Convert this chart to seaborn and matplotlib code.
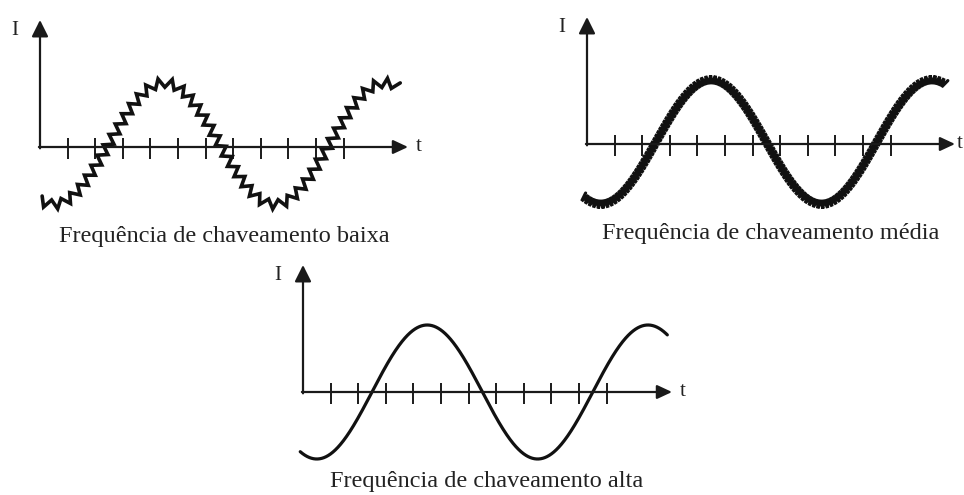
import numpy as np
import matplotlib
matplotlib.use("Agg")
import matplotlib.pyplot as plt
import seaborn as sns

sns.set_theme(style="white")
plt.rcParams["font.family"] = ["Liberation Serif", "DejaVu Serif"]

# ---- content -------------------------------------------------------------
captions = [
    "Frequência de chaveamento baixa",
    "Frequência de chaveamento média",
    "Frequência de chaveamento alta",
]
y_label = "I"
x_label = "t"

# tick marks on the time axis (time in tick units)
tick_t = [1, 2, 3, 4, 5, 6, 7, 8, 9, 10, 11]

# reference sinusoid of each panel: period, rising zero crossing,
# amplitude and dc offset (current units), time span drawn
period = [8.0, 8.0, 8.0]
rise_zero = [2.5, 2.5, 2.5]
amplitude = [0.91, 0.93, 1.0]
offset = [0.05, 0.03, 0.0]
t_start = [0.0, -0.15, -0.1]
t_end = [13.1, 13.0, 13.2]

# switching ripple: teeth spacing along the curve and half height (px)
ripple_step = [12.0, 4.0, 0.0]
ripple_half = [4.5, 4.3, 0.0]

# ---- layout --------------------------------------------------------------
W, H = 964, 495
TICK_PX = 27.6      # pixels per time unit
AMP_PX = 67.0       # pixels per current unit
origins = [(40, 147), (587, 144), (303, 392)]
y_tip = [20, 17, 265]
x_tip = [408, 955, 672]
t_gap = [8, 2, 8]

INK = "#1a1a1a"
TXT = "#222222"

fig = plt.figure(figsize=(W / 100, H / 100), dpi=100)
fig.patch.set_facecolor("white")


def rippled_curve(t, y, step, half):
    """Offset the curve along its normal by a zigzag of given pitch (px)."""
    X = t * TICK_PX
    Y = y * AMP_PX
    seg = np.hypot(np.diff(X), np.diff(Y))
    s = np.concatenate([[0], np.cumsum(seg)])
    sk = np.arange(0, s[-1], step / 2.0)
    xk = np.interp(sk, s, X)
    yk = np.interp(sk, s, Y)
    dx = np.gradient(xk)
    dy = np.gradient(yk)
    nrm = np.hypot(dx, dy)
    nx, ny = -dy / nrm, dx / nrm
    sign = np.where(np.arange(len(sk)) % 2 == 0, 1.0, -1.0)
    xk = xk + sign * half * nx
    yk = yk + sign * half * ny
    return xk / TICK_PX, yk / AMP_PX


for i in range(3):
    ox, oy = origins[i]
    left, right = ox - 35, ox + 390
    top, bottom = y_tip[i] - 8, oy + 110
    ax = fig.add_axes([left / W, 1 - bottom / H, (right - left) / W, (bottom - top) / H])
    ax.set_xlim((left - ox) / TICK_PX, (right - ox) / TICK_PX)
    ax.set_ylim((oy - bottom) / AMP_PX, (oy - top) / AMP_PX)
    ax.axis("off")

    # axes with arrow heads
    xt = (x_tip[i] - ox) / TICK_PX
    yt = (oy - y_tip[i]) / AMP_PX
    ax.annotate("", xy=(xt, 0), xytext=(-0.04, 0),
                arrowprops=dict(arrowstyle="-|>,head_length=0.45,head_width=0.21",
                                mutation_scale=20, lw=1.6, color=INK,
                                shrinkA=0, shrinkB=0))
    ax.annotate("", xy=(0, yt), xytext=(0, -0.02),
                arrowprops=dict(arrowstyle="-|>,head_length=0.5,head_width=0.25",
                                mutation_scale=20, lw=1.6, color=INK,
                                shrinkA=0, shrinkB=0))

    # tick marks
    ax.vlines(tick_t, -12 / AMP_PX, 9 / AMP_PX, color=INK, lw=1.4)

    # axis labels
    ax.text(-25 / TICK_PX, (oy - y_tip[i] - 11) / AMP_PX, y_label,
            fontsize=15, color=TXT, ha="center", va="center")
    ax.text((x_tip[i] - ox + t_gap[i]) / TICK_PX, 0, x_label,
            fontsize=15, color=TXT, ha="left", va="center", clip_on=False)

    # current waveform
    t = np.linspace(t_start[i], t_end[i], 3000)
    y = offset[i] + amplitude[i] * np.sin(2 * np.pi * (t - rise_zero[i]) / period[i])
    if ripple_step[i] > 0:
        t, y = rippled_curve(t, y, ripple_step[i], ripple_half[i])
        lw = 2.6 if i == 0 else 2.3
    else:
        lw = 2.3
    sns.lineplot(x=t, y=y, sort=False, estimator=None, color="#111111",
                 lw=lw, ax=ax, solid_joinstyle="miter")

    # caption
    ax.text(184 / TICK_PX, -95 / AMP_PX, captions[i], fontsize=17.5,
            color=TXT, ha="center", va="baseline")

fig.savefig("out.png", dpi=100, facecolor="white")
